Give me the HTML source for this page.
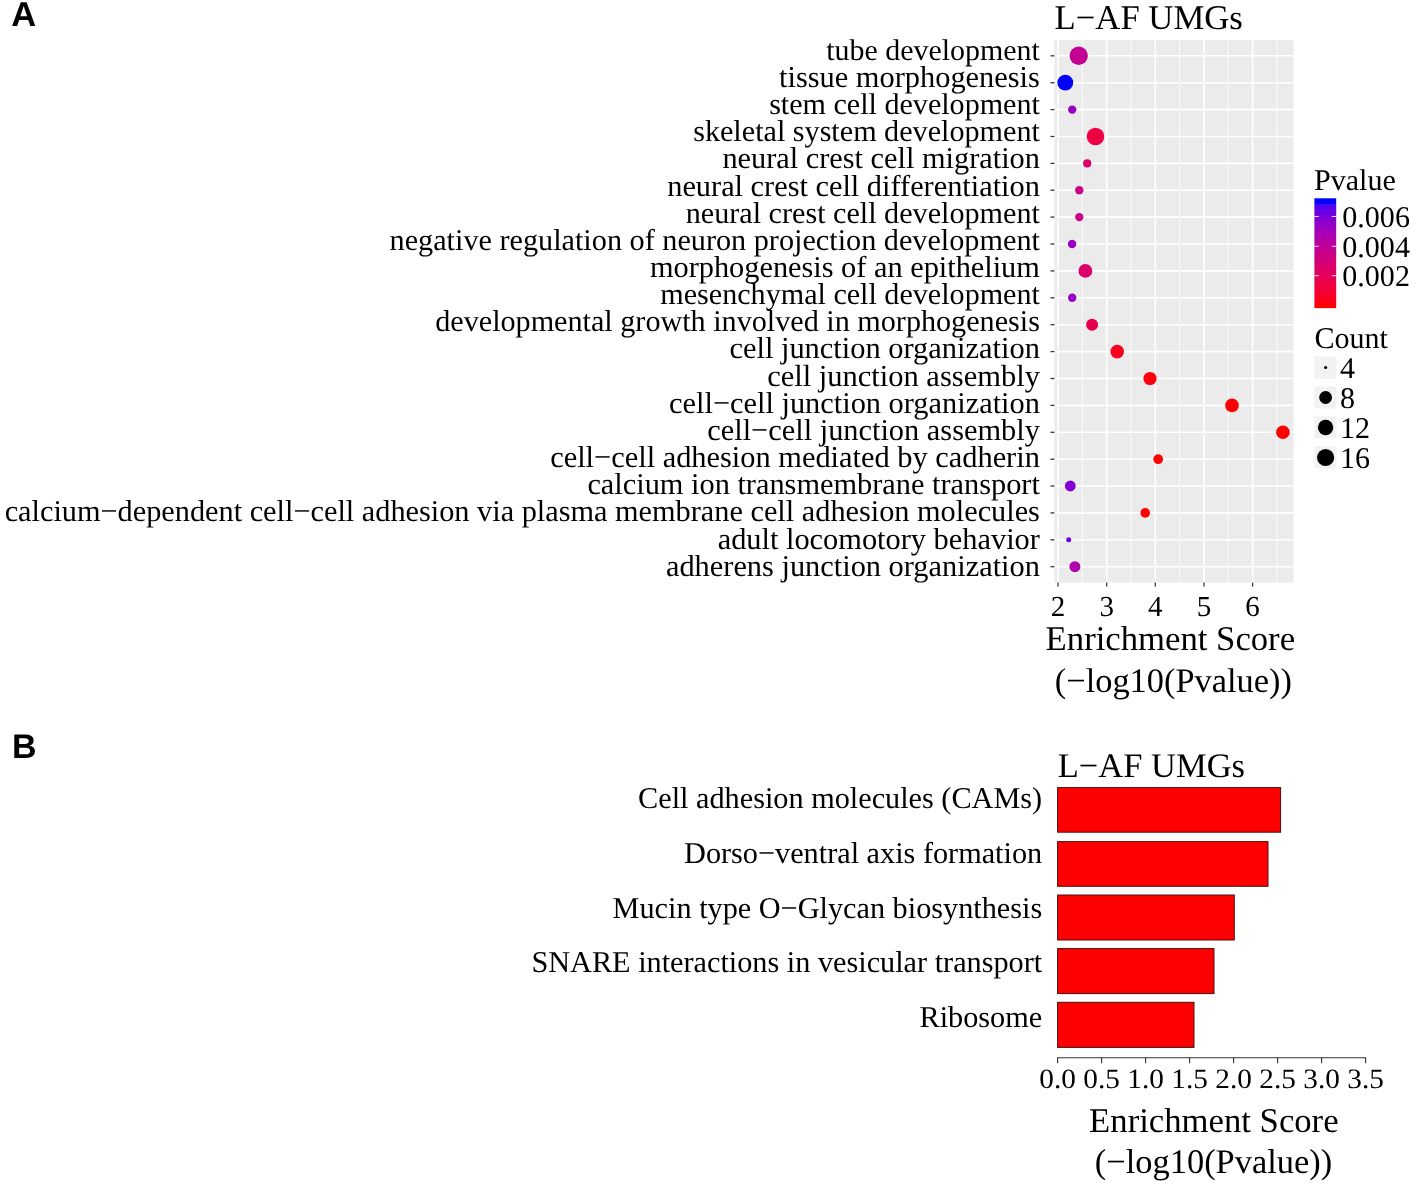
<!DOCTYPE html>
<html><head><meta charset="utf-8"><title>Figure</title>
<style>html,body{margin:0;padding:0;background:#fff;}body{width:1417px;height:1188px;overflow:hidden;font-family:"Liberation Serif",serif;}svg text{white-space:pre;text-rendering:geometricPrecision;}</style>
</head><body>
<svg width="1417" height="1188" viewBox="0 0 1417 1188" style="display:block;will-change:transform">
<rect x="0" y="0" width="1417" height="1188" fill="#ffffff"/>
<text x="11.3" y="25.9" font-family="Liberation Sans, sans-serif" font-weight="700" font-size="34.5" fill="#000">A</text>
<text x="12.0" y="757.8" font-family="Liberation Sans, sans-serif" font-weight="700" font-size="34.0" fill="#000">B</text>
<rect x="1054.5" y="40.0" width="239.1" height="542.6" fill="#EBEBEB"/>
<line x1="1082.3" x2="1082.3" y1="40.0" y2="582.6" stroke="#FFFFFF" stroke-width="0.8"/>
<line x1="1131.0" x2="1131.0" y1="40.0" y2="582.6" stroke="#FFFFFF" stroke-width="0.8"/>
<line x1="1179.6" x2="1179.6" y1="40.0" y2="582.6" stroke="#FFFFFF" stroke-width="0.8"/>
<line x1="1228.3" x2="1228.3" y1="40.0" y2="582.6" stroke="#FFFFFF" stroke-width="0.8"/>
<line x1="1276.9" x2="1276.9" y1="40.0" y2="582.6" stroke="#FFFFFF" stroke-width="0.8"/>
<line x1="1058.0" x2="1058.0" y1="40.0" y2="582.6" stroke="#FFFFFF" stroke-width="1.6"/>
<line x1="1106.7" x2="1106.7" y1="40.0" y2="582.6" stroke="#FFFFFF" stroke-width="1.6"/>
<line x1="1155.3" x2="1155.3" y1="40.0" y2="582.6" stroke="#FFFFFF" stroke-width="1.6"/>
<line x1="1204.0" x2="1204.0" y1="40.0" y2="582.6" stroke="#FFFFFF" stroke-width="1.6"/>
<line x1="1252.6" x2="1252.6" y1="40.0" y2="582.6" stroke="#FFFFFF" stroke-width="1.6"/>
<line x1="1054.5" x2="1293.6" y1="55.8" y2="55.8" stroke="#FFFFFF" stroke-width="1.6"/>
<line x1="1054.5" x2="1293.6" y1="82.7" y2="82.7" stroke="#FFFFFF" stroke-width="1.6"/>
<line x1="1054.5" x2="1293.6" y1="109.6" y2="109.6" stroke="#FFFFFF" stroke-width="1.6"/>
<line x1="1054.5" x2="1293.6" y1="136.5" y2="136.5" stroke="#FFFFFF" stroke-width="1.6"/>
<line x1="1054.5" x2="1293.6" y1="163.4" y2="163.4" stroke="#FFFFFF" stroke-width="1.6"/>
<line x1="1054.5" x2="1293.6" y1="190.2" y2="190.2" stroke="#FFFFFF" stroke-width="1.6"/>
<line x1="1054.5" x2="1293.6" y1="217.1" y2="217.1" stroke="#FFFFFF" stroke-width="1.6"/>
<line x1="1054.5" x2="1293.6" y1="244.0" y2="244.0" stroke="#FFFFFF" stroke-width="1.6"/>
<line x1="1054.5" x2="1293.6" y1="270.9" y2="270.9" stroke="#FFFFFF" stroke-width="1.6"/>
<line x1="1054.5" x2="1293.6" y1="297.8" y2="297.8" stroke="#FFFFFF" stroke-width="1.6"/>
<line x1="1054.5" x2="1293.6" y1="324.7" y2="324.7" stroke="#FFFFFF" stroke-width="1.6"/>
<line x1="1054.5" x2="1293.6" y1="351.6" y2="351.6" stroke="#FFFFFF" stroke-width="1.6"/>
<line x1="1054.5" x2="1293.6" y1="378.5" y2="378.5" stroke="#FFFFFF" stroke-width="1.6"/>
<line x1="1054.5" x2="1293.6" y1="405.4" y2="405.4" stroke="#FFFFFF" stroke-width="1.6"/>
<line x1="1054.5" x2="1293.6" y1="432.3" y2="432.3" stroke="#FFFFFF" stroke-width="1.6"/>
<line x1="1054.5" x2="1293.6" y1="459.2" y2="459.2" stroke="#FFFFFF" stroke-width="1.6"/>
<line x1="1054.5" x2="1293.6" y1="486.0" y2="486.0" stroke="#FFFFFF" stroke-width="1.6"/>
<line x1="1054.5" x2="1293.6" y1="512.9" y2="512.9" stroke="#FFFFFF" stroke-width="1.6"/>
<line x1="1054.5" x2="1293.6" y1="539.8" y2="539.8" stroke="#FFFFFF" stroke-width="1.6"/>
<line x1="1054.5" x2="1293.6" y1="566.7" y2="566.7" stroke="#FFFFFF" stroke-width="1.6"/>
<line x1="1050.5" x2="1054.5" y1="55.8" y2="55.8" stroke="#333" stroke-width="1.25"/>
<line x1="1050.5" x2="1054.5" y1="82.7" y2="82.7" stroke="#333" stroke-width="1.25"/>
<line x1="1050.5" x2="1054.5" y1="109.6" y2="109.6" stroke="#333" stroke-width="1.25"/>
<line x1="1050.5" x2="1054.5" y1="136.5" y2="136.5" stroke="#333" stroke-width="1.25"/>
<line x1="1050.5" x2="1054.5" y1="163.4" y2="163.4" stroke="#333" stroke-width="1.25"/>
<line x1="1050.5" x2="1054.5" y1="190.2" y2="190.2" stroke="#333" stroke-width="1.25"/>
<line x1="1050.5" x2="1054.5" y1="217.1" y2="217.1" stroke="#333" stroke-width="1.25"/>
<line x1="1050.5" x2="1054.5" y1="244.0" y2="244.0" stroke="#333" stroke-width="1.25"/>
<line x1="1050.5" x2="1054.5" y1="270.9" y2="270.9" stroke="#333" stroke-width="1.25"/>
<line x1="1050.5" x2="1054.5" y1="297.8" y2="297.8" stroke="#333" stroke-width="1.25"/>
<line x1="1050.5" x2="1054.5" y1="324.7" y2="324.7" stroke="#333" stroke-width="1.25"/>
<line x1="1050.5" x2="1054.5" y1="351.6" y2="351.6" stroke="#333" stroke-width="1.25"/>
<line x1="1050.5" x2="1054.5" y1="378.5" y2="378.5" stroke="#333" stroke-width="1.25"/>
<line x1="1050.5" x2="1054.5" y1="405.4" y2="405.4" stroke="#333" stroke-width="1.25"/>
<line x1="1050.5" x2="1054.5" y1="432.3" y2="432.3" stroke="#333" stroke-width="1.25"/>
<line x1="1050.5" x2="1054.5" y1="459.2" y2="459.2" stroke="#333" stroke-width="1.25"/>
<line x1="1050.5" x2="1054.5" y1="486.0" y2="486.0" stroke="#333" stroke-width="1.25"/>
<line x1="1050.5" x2="1054.5" y1="512.9" y2="512.9" stroke="#333" stroke-width="1.25"/>
<line x1="1050.5" x2="1054.5" y1="539.8" y2="539.8" stroke="#333" stroke-width="1.25"/>
<line x1="1050.5" x2="1054.5" y1="566.7" y2="566.7" stroke="#333" stroke-width="1.25"/>
<line x1="1058.0" x2="1058.0" y1="582.6" y2="586.6" stroke="#333" stroke-width="1.25"/>
<text x="1058.0" y="615.5" text-anchor="middle" font-family="Liberation Serif, serif" font-size="29.0" fill="#000">2</text>
<line x1="1106.7" x2="1106.7" y1="582.6" y2="586.6" stroke="#333" stroke-width="1.25"/>
<text x="1106.7" y="615.5" text-anchor="middle" font-family="Liberation Serif, serif" font-size="29.0" fill="#000">3</text>
<line x1="1155.3" x2="1155.3" y1="582.6" y2="586.6" stroke="#333" stroke-width="1.25"/>
<text x="1155.3" y="615.5" text-anchor="middle" font-family="Liberation Serif, serif" font-size="29.0" fill="#000">4</text>
<line x1="1204.0" x2="1204.0" y1="582.6" y2="586.6" stroke="#333" stroke-width="1.25"/>
<text x="1204.0" y="615.5" text-anchor="middle" font-family="Liberation Serif, serif" font-size="29.0" fill="#000">5</text>
<line x1="1252.6" x2="1252.6" y1="582.6" y2="586.6" stroke="#333" stroke-width="1.25"/>
<text x="1252.6" y="615.5" text-anchor="middle" font-family="Liberation Serif, serif" font-size="29.0" fill="#000">6</text>
<text x="1039.9" y="59.8" text-anchor="end" font-family="Liberation Serif, serif" font-size="29.95" fill="#000">tube development</text>
<text x="1039.9" y="86.9" text-anchor="end" font-family="Liberation Serif, serif" font-size="30.4" fill="#000">tissue morphogenesis</text>
<text x="1039.9" y="114.1" text-anchor="end" font-family="Liberation Serif, serif" font-size="30.1" fill="#000">stem cell development</text>
<text x="1039.9" y="141.2" text-anchor="end" font-family="Liberation Serif, serif" font-size="30.17" fill="#000">skeletal system development</text>
<text x="1039.9" y="168.4" text-anchor="end" font-family="Liberation Serif, serif" font-size="30.33" fill="#000">neural crest cell migration</text>
<text x="1039.9" y="195.6" text-anchor="end" font-family="Liberation Serif, serif" font-size="30.35" fill="#000">neural crest cell differentiation</text>
<text x="1039.9" y="222.7" text-anchor="end" font-family="Liberation Serif, serif" font-size="30.17" fill="#000">neural crest cell development</text>
<text x="1039.9" y="249.8" text-anchor="end" font-family="Liberation Serif, serif" font-size="30.22" fill="#000">negative regulation of neuron projection development</text>
<text x="1039.9" y="277.0" text-anchor="end" font-family="Liberation Serif, serif" font-size="30.33" fill="#000">morphogenesis of an epithelium</text>
<text x="1039.9" y="304.1" text-anchor="end" font-family="Liberation Serif, serif" font-size="30.12" fill="#000">mesenchymal cell development</text>
<text x="1039.9" y="331.3" text-anchor="end" font-family="Liberation Serif, serif" font-size="30.17" fill="#000">developmental growth involved in morphogenesis</text>
<text x="1039.9" y="358.4" text-anchor="end" font-family="Liberation Serif, serif" font-size="30.45" fill="#000">cell junction organization</text>
<text x="1039.9" y="385.6" text-anchor="end" font-family="Liberation Serif, serif" font-size="30.5" fill="#000">cell junction assembly</text>
<text x="1039.9" y="412.8" text-anchor="end" font-family="Liberation Serif, serif" font-size="30.38" fill="#000">cell−cell junction organization</text>
<text x="1039.9" y="439.9" text-anchor="end" font-family="Liberation Serif, serif" font-size="30.38" fill="#000">cell−cell junction assembly</text>
<text x="1039.9" y="467.1" text-anchor="end" font-family="Liberation Serif, serif" font-size="30.4" fill="#000">cell−cell adhesion mediated by cadherin</text>
<text x="1039.9" y="494.2" text-anchor="end" font-family="Liberation Serif, serif" font-size="30.35" fill="#000">calcium ion transmembrane transport</text>
<text x="1039.9" y="521.3" text-anchor="end" font-family="Liberation Serif, serif" font-size="30.31" fill="#000">calcium−dependent cell−cell adhesion via plasma membrane cell adhesion molecules</text>
<text x="1039.9" y="548.5" text-anchor="end" font-family="Liberation Serif, serif" font-size="30.39" fill="#000">adult locomotory behavior</text>
<text x="1039.9" y="575.6" text-anchor="end" font-family="Liberation Serif, serif" font-size="30.39" fill="#000">adherens junction organization</text>
<circle cx="1078.7" cy="55.8" r="9.2" fill="#C20094"/>
<circle cx="1065.3" cy="82.7" r="7.9" fill="#0000FF"/>
<circle cx="1072.2" cy="109.6" r="4.2" fill="#9800C5"/>
<circle cx="1095.5" cy="136.5" r="8.8" fill="#ED0044"/>
<circle cx="1087.2" cy="163.4" r="4.1" fill="#DC0069"/>
<circle cx="1079.3" cy="190.2" r="4.15" fill="#CA0088"/>
<circle cx="1079.3" cy="217.1" r="4.15" fill="#CA0088"/>
<circle cx="1072.1" cy="244.0" r="4.2" fill="#9800C5"/>
<circle cx="1085.4" cy="270.9" r="6.9" fill="#DB006B"/>
<circle cx="1072.2" cy="297.8" r="4.2" fill="#9800C5"/>
<circle cx="1092.1" cy="324.7" r="6.0" fill="#E80050"/>
<circle cx="1117.2" cy="351.6" r="6.8" fill="#FA001E"/>
<circle cx="1150.0" cy="378.5" r="6.6" fill="#FD000D"/>
<circle cx="1232.0" cy="405.4" r="6.8" fill="#FF0000"/>
<circle cx="1282.9" cy="432.3" r="6.8" fill="#FF0000"/>
<circle cx="1158.2" cy="459.2" r="4.85" fill="#FF0000"/>
<circle cx="1070.3" cy="486.0" r="5.4" fill="#8700D3"/>
<circle cx="1145.2" cy="512.9" r="4.85" fill="#FF0000"/>
<circle cx="1068.7" cy="539.8" r="2.5" fill="#7100E2"/>
<circle cx="1074.9" cy="566.7" r="5.5" fill="#B000AB"/>
<text x="1054.6" y="29.0" font-family="Liberation Serif, serif" font-size="34.7" fill="#000">L−AF UMGs</text>
<text x="1045.6" y="649.5" font-family="Liberation Serif, serif" font-size="34.7" fill="#000">Enrichment Score</text>
<text x="1054.8" y="691.6" font-family="Liberation Serif, serif" font-size="34.4" fill="#000">(−log10(Pvalue))</text>
<text x="1314.0" y="189.8" font-family="Liberation Serif, serif" font-size="30.05" fill="#000">Pvalue</text>
<defs><linearGradient id="cb" x1="0" y1="0" x2="0" y2="1"><stop offset="0.0000" stop-color="#0000FF"/><stop offset="0.0500" stop-color="#0000FF"/><stop offset="0.0500" stop-color="#4D00F2"/><stop offset="0.1000" stop-color="#4D00F2"/><stop offset="0.1000" stop-color="#6A00E5"/><stop offset="0.1500" stop-color="#6A00E5"/><stop offset="0.1500" stop-color="#7F00D9"/><stop offset="0.2000" stop-color="#7F00D9"/><stop offset="0.2000" stop-color="#9000CC"/><stop offset="0.2500" stop-color="#9000CC"/><stop offset="0.2500" stop-color="#9E00BF"/><stop offset="0.3000" stop-color="#9E00BF"/><stop offset="0.3000" stop-color="#A900B3"/><stop offset="0.3500" stop-color="#A900B3"/><stop offset="0.3500" stop-color="#B400A7"/><stop offset="0.4000" stop-color="#B400A7"/><stop offset="0.4000" stop-color="#BD009B"/><stop offset="0.4500" stop-color="#BD009B"/><stop offset="0.4500" stop-color="#C6008F"/><stop offset="0.5000" stop-color="#C6008F"/><stop offset="0.5000" stop-color="#CD0082"/><stop offset="0.5500" stop-color="#CD0082"/><stop offset="0.5500" stop-color="#D40077"/><stop offset="0.6000" stop-color="#D40077"/><stop offset="0.6000" stop-color="#DB006B"/><stop offset="0.6500" stop-color="#DB006B"/><stop offset="0.6500" stop-color="#E1005F"/><stop offset="0.7000" stop-color="#E1005F"/><stop offset="0.7000" stop-color="#E70053"/><stop offset="0.7500" stop-color="#E70053"/><stop offset="0.7500" stop-color="#EC0046"/><stop offset="0.8000" stop-color="#EC0046"/><stop offset="0.8000" stop-color="#F10039"/><stop offset="0.8500" stop-color="#F10039"/><stop offset="0.8500" stop-color="#F6002C"/><stop offset="0.9000" stop-color="#F6002C"/><stop offset="0.9000" stop-color="#FB001B"/><stop offset="0.9500" stop-color="#FB001B"/><stop offset="0.9500" stop-color="#FF0000"/><stop offset="1.0000" stop-color="#FF0000"/></linearGradient></defs>
<rect x="1314.4" y="198.3" width="21.8" height="109.8" fill="url(#cb)"/>
<line x1="1314.4" x2="1318.8000000000002" y1="216.5" y2="216.5" stroke="#fff" stroke-width="0.9"/>
<line x1="1331.8" x2="1336.2" y1="216.5" y2="216.5" stroke="#fff" stroke-width="0.9"/>
<text x="1342.3" y="226.9" font-family="Liberation Serif, serif" font-size="30.05" fill="#000">0.006</text>
<line x1="1314.4" x2="1318.8000000000002" y1="246.3" y2="246.3" stroke="#fff" stroke-width="0.9"/>
<line x1="1331.8" x2="1336.2" y1="246.3" y2="246.3" stroke="#fff" stroke-width="0.9"/>
<text x="1342.3" y="256.7" font-family="Liberation Serif, serif" font-size="30.05" fill="#000">0.004</text>
<line x1="1314.4" x2="1318.8000000000002" y1="275.7" y2="275.7" stroke="#fff" stroke-width="0.9"/>
<line x1="1331.8" x2="1336.2" y1="275.7" y2="275.7" stroke="#fff" stroke-width="0.9"/>
<text x="1342.3" y="286.1" font-family="Liberation Serif, serif" font-size="30.05" fill="#000">0.002</text>
<text x="1314.4" y="347.9" font-family="Liberation Serif, serif" font-size="30.05" fill="#000">Count</text>
<rect x="1314.5" y="356.5" width="22" height="22" fill="#F2F2F2"/>
<circle cx="1325.6" cy="367.5" r="1.6" fill="#000"/>
<text x="1340.0" y="377.7" font-family="Liberation Serif, serif" font-size="30.05" fill="#000">4</text>
<rect x="1314.5" y="386.5" width="22" height="22" fill="#F2F2F2"/>
<circle cx="1325.6" cy="397.5" r="6.4" fill="#000"/>
<text x="1340.0" y="407.7" font-family="Liberation Serif, serif" font-size="30.05" fill="#000">8</text>
<rect x="1314.5" y="416.5" width="22" height="22" fill="#F2F2F2"/>
<circle cx="1325.6" cy="427.5" r="7.7" fill="#000"/>
<text x="1340.0" y="437.7" font-family="Liberation Serif, serif" font-size="30.05" fill="#000">12</text>
<rect x="1314.5" y="446.5" width="22" height="22" fill="#F2F2F2"/>
<circle cx="1325.6" cy="457.5" r="8.6" fill="#000"/>
<text x="1340.0" y="467.7" font-family="Liberation Serif, serif" font-size="30.05" fill="#000">16</text>
<text x="1057.8" y="777.0" font-family="Liberation Serif, serif" font-size="34.5" fill="#000">L−AF UMGs</text>
<rect x="1057.6" y="787.6" width="223.0" height="44.6" fill="#FF0000" stroke="#4A1010" stroke-width="1"/>
<rect x="1057.6" y="841.6" width="210.4" height="44.7" fill="#FF0000" stroke="#4A1010" stroke-width="1"/>
<rect x="1057.6" y="895.0" width="176.7" height="45.0" fill="#FF0000" stroke="#4A1010" stroke-width="1"/>
<rect x="1057.6" y="948.6" width="156.4" height="45.0" fill="#FF0000" stroke="#4A1010" stroke-width="1"/>
<rect x="1057.6" y="1002.3" width="136.4" height="45.1" fill="#FF0000" stroke="#4A1010" stroke-width="1"/>
<text x="1042.2" y="808.1" text-anchor="end" font-family="Liberation Serif, serif" font-size="30.26" fill="#000">Cell adhesion molecules (CAMs)</text>
<text x="1042.2" y="863.0" text-anchor="end" font-family="Liberation Serif, serif" font-size="30.26" fill="#000">Dorso−ventral axis formation</text>
<text x="1042.2" y="917.9" text-anchor="end" font-family="Liberation Serif, serif" font-size="30.26" fill="#000">Mucin type O−Glycan biosynthesis</text>
<text x="1042.2" y="972.4" text-anchor="end" font-family="Liberation Serif, serif" font-size="30.26" fill="#000">SNARE interactions in vesicular transport</text>
<text x="1042.2" y="1027.2" text-anchor="end" font-family="Liberation Serif, serif" font-size="30.26" fill="#000">Ribosome</text>
<line x1="1057.1" x2="1366.1" y1="1057.8" y2="1057.8" stroke="#333" stroke-width="1.1"/>
<line x1="1057.6" x2="1057.6" y1="1057.8" y2="1063.2" stroke="#333" stroke-width="1.1"/>
<text transform="translate(1057.6 1088.4) scale(1.045 1)" x="0" y="0" text-anchor="middle" font-family="Liberation Serif, serif" font-size="28.0" fill="#000">0.0</text>
<line x1="1101.6" x2="1101.6" y1="1057.8" y2="1063.2" stroke="#333" stroke-width="1.1"/>
<text transform="translate(1101.6 1088.4) scale(1.045 1)" x="0" y="0" text-anchor="middle" font-family="Liberation Serif, serif" font-size="28.0" fill="#000">0.5</text>
<line x1="1145.6" x2="1145.6" y1="1057.8" y2="1063.2" stroke="#333" stroke-width="1.1"/>
<text transform="translate(1145.6 1088.4) scale(1.045 1)" x="0" y="0" text-anchor="middle" font-family="Liberation Serif, serif" font-size="28.0" fill="#000">1.0</text>
<line x1="1189.6" x2="1189.6" y1="1057.8" y2="1063.2" stroke="#333" stroke-width="1.1"/>
<text transform="translate(1189.6 1088.4) scale(1.045 1)" x="0" y="0" text-anchor="middle" font-family="Liberation Serif, serif" font-size="28.0" fill="#000">1.5</text>
<line x1="1233.6" x2="1233.6" y1="1057.8" y2="1063.2" stroke="#333" stroke-width="1.1"/>
<text transform="translate(1233.6 1088.4) scale(1.045 1)" x="0" y="0" text-anchor="middle" font-family="Liberation Serif, serif" font-size="28.0" fill="#000">2.0</text>
<line x1="1277.6" x2="1277.6" y1="1057.8" y2="1063.2" stroke="#333" stroke-width="1.1"/>
<text transform="translate(1277.6 1088.4) scale(1.045 1)" x="0" y="0" text-anchor="middle" font-family="Liberation Serif, serif" font-size="28.0" fill="#000">2.5</text>
<line x1="1321.6" x2="1321.6" y1="1057.8" y2="1063.2" stroke="#333" stroke-width="1.1"/>
<text transform="translate(1321.6 1088.4) scale(1.045 1)" x="0" y="0" text-anchor="middle" font-family="Liberation Serif, serif" font-size="28.0" fill="#000">3.0</text>
<line x1="1365.6" x2="1365.6" y1="1057.8" y2="1063.2" stroke="#333" stroke-width="1.1"/>
<text transform="translate(1365.6 1088.4) scale(1.045 1)" x="0" y="0" text-anchor="middle" font-family="Liberation Serif, serif" font-size="28.0" fill="#000">3.5</text>
<text x="1089.1" y="1131.9" font-family="Liberation Serif, serif" font-size="34.7" fill="#000">Enrichment Score</text>
<text x="1094.8" y="1173.2" font-family="Liberation Serif, serif" font-size="34.45" fill="#000">(−log10(Pvalue))</text>
</svg>
</body></html>
